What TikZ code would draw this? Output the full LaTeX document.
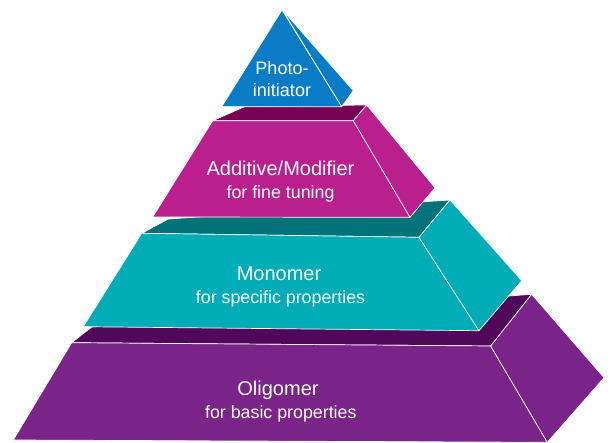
\documentclass[tikz,border=0pt]{standalone}
\usepackage{fontspec}
\setmainfont{Liberation Sans}
\definecolor{xphoto}{HTML}{0A7CC5}
\definecolor{xadd}{HTML}{BA1F8E}
\definecolor{xaddtop}{HTML}{780052}
\definecolor{xmono}{HTML}{00ADB7}
\definecolor{xmonotop}{HTML}{00737A}
\definecolor{xoligo}{HTML}{7A2389}
\definecolor{xoligotop}{HTML}{52085A}
\tikzset{
	face/.style n args={1}{fill=#1, draw=white, line width=0.7pt, line join=round},
	title/.style={text=white, font=\fontsize{20}{24}\selectfont, anchor=base, inner sep=0pt},
	subtitle/.style={text=white, font=\fontsize{17.8}{21}\selectfont, anchor=base, inner sep=0pt},
	tiptitle/.style={text=white, font=\fontsize{18}{21}\selectfont, anchor=base, inner sep=0pt},
}

\begin{document}
\begin{tikzpicture}[x=1pt, y=-1pt]
			\useasboundingbox (0,0) rectangle (610,443);
			% oligomer
			\draw[face=xoligotop] (71.7,342.7) -- (91.7,327) -- (531.7,294.3) -- (490.7,346) -- cycle;
			\draw[face=xoligo] (71.7,342.7) -- (490.7,346) -- (547.3,442.3) -- (13.3,440) -- cycle;
			\draw[face=xoligo] (490.7,346) -- (531.7,294.3) -- (604,377.7) -- (547.3,442.3) -- cycle;
			% monomer
			\draw[face=xmonotop] (141.7,233.3) -- (168.3,219) -- (450,200) -- (419,237.3) -- cycle;
			\draw[face=xmono] (141.7,233.3) -- (419,237.3) -- (479,330.7) -- (83.3,326.7) -- cycle;
			\draw[face=xmono] (419,237.3) -- (450,200) -- (521.7,280.7) -- (479,330.7) -- cycle;
			% additive
			\draw[face=xaddtop] (212.7,120.7) -- (245,106.5) -- (366.7,105) -- (353.3,120.7) -- cycle;
			\draw[face=xadd] (212.7,120.7) -- (353.3,120.7) -- (410,217.3) -- (152.7,217) -- cycle;
			\draw[face=xadd] (353.3,120.7) -- (366.7,105) -- (435,187.8) -- (410,217.3) -- cycle;
			% photoinitiator
			\draw[face=xphoto] (282,10) -- (341.7,106.7) -- (221.7,106.7) -- cycle;
			\draw[face=xphoto] (282.5,10) -- (353.3,90.7) -- (341.7,106.7) -- cycle;

			\node[tiptitle] (photo) at (282,75) {Photo-};
			\node[tiptitle] (initiator) at (282,96.7) {initiator};
			\node[title] (additive) at (280.5,175.3) {Additive/Modifier};
			\node[subtitle] (additivesub) at (280.5,198.7) {for fine tuning};
			\node[title] (monomer) at (279,280.7) {Monomer};
			\node[subtitle] (monomersub) at (280.5,304) {for specific properties};
			\node[title] (oligomer) at (278,395) {Oligomer};
			\node[subtitle] (oligomersub) at (280.8,418.3) {for basic properties};
		\end{tikzpicture}
\end{document}
